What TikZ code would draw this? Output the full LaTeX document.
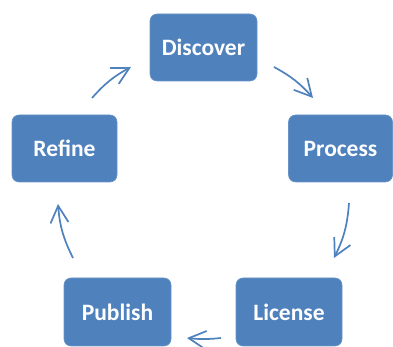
\documentclass[tikz,border=0pt]{standalone}
\usepackage{fontspec}
\setmainfont{Carlito}
\usetikzlibrary{arrows.meta}
\definecolor{boxblue}{RGB}{79,129,189}
\definecolor{arrowblue}{RGB}{79,129,189}
\tikzset{
  stepbox/.style={draw=boxblue!85!white, line width=0.6pt, fill=boxblue, rounded corners=7pt,
    minimum height=67pt, inner sep=0pt, text=white, font=\fontsize{23.5}{27}\selectfont\bfseries},
  cyclearrow/.style={draw=arrowblue, line width=1.7pt,
    -{Straight Barb[length=17pt,width=18pt,line width=1.7pt]}}
}
\begin{document}
\begin{tikzpicture}[x=1pt,y=1pt]
\useasboundingbox (0,0) rectangle (393,347);
\node[stepbox, minimum width=107pt] (discover) at (203.5,299.5) {Discover};
\node[stepbox, minimum width=105pt] (refine) at (64.5,198.5) {Refine};
\node[stepbox, minimum width=104pt] (process) at (340.5,198.5) {Process};
\node[stepbox, minimum width=107pt, minimum height=68pt] (publish) at (117.5,35) {Publish};
\node[stepbox, minimum width=106pt, minimum height=68pt] (license) at (289,35) {License};
\coordinate (a1s) at (92,249);
\coordinate (a1e) at (131,280);
\coordinate (a2s) at (274,280);
\coordinate (a2e) at (313,249);
\coordinate (a3s) at (349,144);
\coordinate (a3e) at (334,89);
\coordinate (a4s) at (221,9);
\coordinate (a4e) at (187,9);
\coordinate (a5s) at (73,89);
\coordinate (a5e) at (58,143);
\draw[cyclearrow] (a1s) to[bend left=10] (a1e);
\draw[cyclearrow] (a2s) to[bend left=10] (a2e);
\draw[cyclearrow] (a3s) to[bend left=11] (a3e);
\draw[cyclearrow] (a4s) to[bend left=6] (a4e);
\draw[cyclearrow] (a5s) to[bend left=11] (a5e);
\end{tikzpicture}
\end{document}
